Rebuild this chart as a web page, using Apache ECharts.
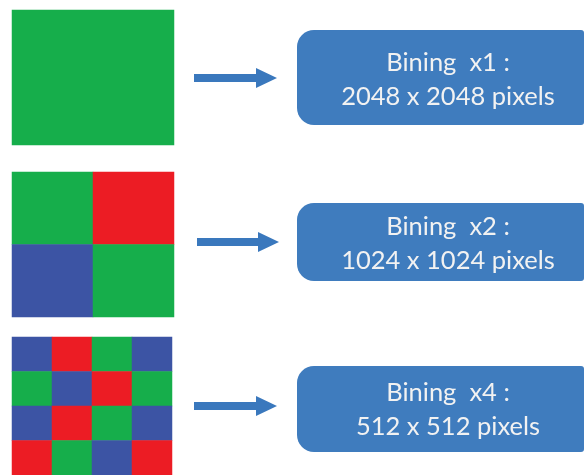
<!DOCTYPE html>
<html>
<head>
<meta charset="utf-8">
<script src="https://cdn.jsdelivr.net/npm/echarts@6/dist/echarts.min.js"></script>
<style>html,body{margin:0;padding:0;background:#fff;}#c{width:585px;height:475px;}</style>
</head>
<body>
<div id="c"></div>
<script>
// Colour codes: 0 = green, 1 = red, 2 = blue
const cellColors = ['#16AE4B', '#EC1C24', '#3C54A4'];
const panel1 = [[0]];
const panel2 = [[0, 1], [2, 0]];
const panel3 = [[2, 1, 0, 2], [0, 2, 1, 0], [2, 1, 0, 2], [1, 0, 2, 1]];
const panels = [panel1, panel2, panel3];
const labelLine1 = ['Bining  x1 :', 'Bining  x2 :', 'Bining  x4 :'];
const labelLine2 = ['2048 x 2048 pixels', '1024 x 1024 pixels', '512 x 512 pixels'];

// layout (not data)
const gridBoxes = [
  {left: 12, top: 10, width: 162, height: 135},
  {left: 12, top: 172, width: 162, height: 145},
  {left: 12, top: 337, width: 160, height: 144}
];
const arrowLayout = [
  {x0: 194, x1: 256, x2: 277, y: 78},
  {x0: 197, x1: 258, x2: 279, y: 242},
  {x0: 194, x1: 256, x2: 277, y: 406}
];
const boxLayout = [
  {top: 30, bottom: 125, textY: 80},
  {top: 203, bottom: 281, textY: 244},
  {top: 366, bottom: 452, textY: 410}
];
const boxColor = '#3F7CBE';
const arrowColor = '#3A78BD';

const grids = [], xAxes = [], yAxes = [], series = [];
panels.forEach((m, i) => {
  const rows = m.length, cols = m[0].length;
  grids.push(Object.assign({containLabel: false}, gridBoxes[i]));
  xAxes.push({type: 'category', gridIndex: i, data: Array.from({length: cols}, (_, k) => String(k)), show: false, boundaryGap: true});
  yAxes.push({type: 'category', gridIndex: i, inverse: true, data: Array.from({length: rows}, (_, k) => String(k)), show: false, boundaryGap: true});
  const data = [];
  m.forEach((row, r) => row.forEach((c, k) => data.push([k, r, c])));
  series.push({
    type: 'heatmap', xAxisIndex: i, yAxisIndex: i, data: data,
    itemStyle: {borderWidth: 0}, emphasis: {disabled: true}, silent: true, animation: false
  });
});

const graphics = [];
arrowLayout.forEach(a => {
  graphics.push({
    type: 'polygon',
    shape: {points: [[a.x0, a.y - 4], [a.x1, a.y - 4], [a.x1, a.y - 10], [a.x2, a.y], [a.x1, a.y + 10], [a.x1, a.y + 4], [a.x0, a.y + 4]]},
    style: {fill: arrowColor}, silent: true
  });
});
boxLayout.forEach((b, i) => {
  graphics.push({
    type: 'rect',
    shape: {x: 297, y: b.top, width: 287, height: b.bottom - b.top, r: [17, 3, 3, 17]},
    style: {fill: boxColor}, silent: true
  });
  graphics.push({
    type: 'text',
    style: {
      text: labelLine1[i] + '\n' + labelLine2[i],
      x: 448, y: b.textY, align: 'center', verticalAlign: 'middle',
      font: '25.5px Lato', lineHeight: 34, fill: '#F2F2F2'
    },
    silent: true
  });
});

const chart = echarts.init(document.getElementById('c'), null, {renderer: 'canvas'});
chart.setOption({
  animation: false,
  grid: grids, xAxis: xAxes, yAxis: yAxes,
  visualMap: {
    type: 'piecewise', show: false, dimension: 2, seriesIndex: [0, 1, 2],
    pieces: cellColors.map((c, k) => ({value: k, color: c}))
  },
  series: series,
  graphic: graphics
});
</script>
</body>
</html>
